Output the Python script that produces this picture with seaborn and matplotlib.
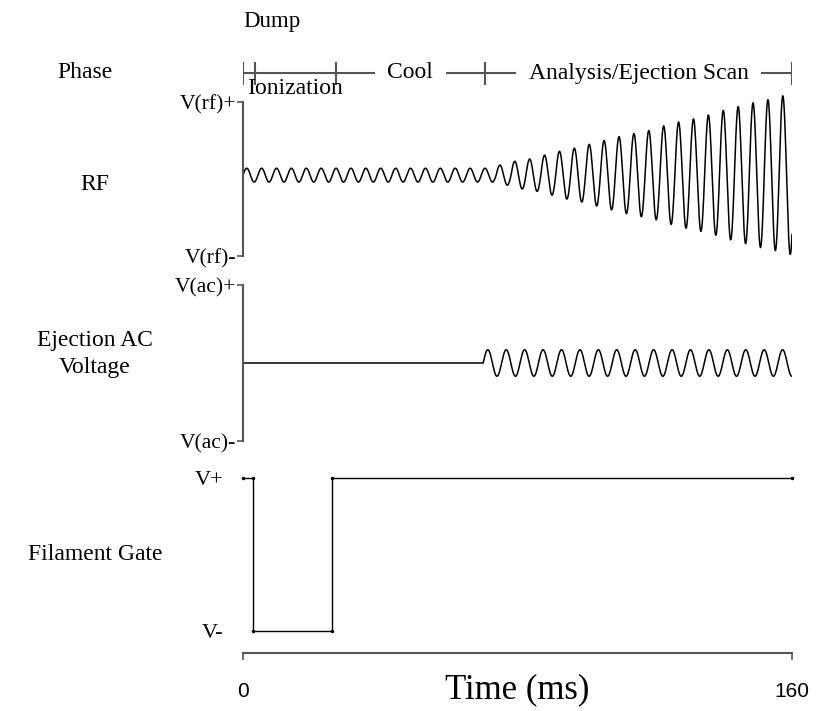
import numpy as np
import pandas as pd
import matplotlib
matplotlib.use('Agg')
import matplotlib.pyplot as plt
import seaborn as sns

# phases of the scan (ms)
phase_names = ['Dump', 'Ionization', 'Cool', 'Analysis/Ejection Scan']
phase_edges = [0, 3.5, 27, 70.5, 160]

# RF: one amplitude per cycle (V(rf)+ = 1)
rf_period = 4.34
rf_offset = 0.05
rf_amps = [0.09, 0.09, 0.09, 0.09, 0.09, 0.09, 0.09, 0.09, 0.09, 0.09,
           0.09, 0.09, 0.09, 0.09, 0.09, 0.09, 0.09, 0.13, 0.18, 0.21,
           0.26, 0.31, 0.35, 0.40, 0.45, 0.50, 0.54, 0.58, 0.64, 0.69,
           0.73, 0.78, 0.84, 0.89, 0.94, 0.98, 1.03]

# ejection AC voltage
ac_start = 70
ac_period = 5.37
ac_amp = 0.17

# filament gate corners
gate_t = [0, 3, 3, 26, 26, 160]
gate_v = [1, 1, -1, -1, 1, 1]

time_ticks = [0, 160]
t_end = 160

sns.set_theme(style='white')
plt.rcParams['font.family'] = ['Liberation Serif', 'DejaVu Serif']
plt.rcParams['text.color'] = 'black'
plt.rcParams['xtick.labelcolor'] = 'black'
plt.rcParams['ytick.labelcolor'] = 'black'
plt.rcParams['axes.labelcolor'] = 'black'
LINE = '#555555'
FS = 17

W, H = 818, 711
fig = plt.figure(figsize=(W / 100, H / 100), dpi=100)


def box(top, bottom, left=243, right=792):
    return [left / W, 1 - bottom / H, (right - left) / W, (bottom - top) / H]


def clean(ax):
    for s in ax.spines.values():
        s.set_visible(False)
    ax.set_xlim(0, t_end)
    ax.set_xticks([])
    ax.set_yticks([])
    ax.set_xlabel('')
    ax.set_ylabel('')
    ax.patch.set_alpha(0)


t = np.linspace(0, t_end, 6000)

# phase row
ax0 = fig.add_axes(box(53, 93))
clean(ax0)
ax0.set_ylim(-1, 1)
ax0.hlines(0, 0, t_end, color=LINE, lw=1.5)
ax0.vlines(phase_edges, -0.6, 0.55, color=LINE, lw=1.5)
mids = [(a + b) / 2 for a, b in zip(phase_edges[:-1], phase_edges[1:])]
ax0.text(phase_edges[0], 2.55, phase_names[0], ha='left', va='center', fontsize=FS - 0.5)
ax0.text(mids[1], -0.75, phase_names[1], ha='center', va='center', fontsize=FS)
for m, name in zip(mids[2:], phase_names[2:]):
    ax0.text(m, 0, name, ha='center', va='center', fontsize=FS,
             bbox=dict(fc='white', ec='none', pad=9))

# RF
ax1 = fig.add_axes(box(88, 262))
cyc = t / rf_period
idx = np.minimum(cyc.astype(int), len(rf_amps) - 1)
rf = rf_offset + np.array(rf_amps)[idx] * np.sin(2 * np.pi * cyc)
sns.lineplot(data=pd.DataFrame({'t': t, 'v': rf}), x='t', y='v', ax=ax1,
             color='black', lw=1.1, estimator=None, sort=False)
clean(ax1)
ax1.set_ylim(-(262 - 179) / 77, (179 - 88) / 77)
ax1.set_yticks([-1, 1], ['V(rf)-', 'V(rf)+'])

# Ejection AC
ax2 = fig.add_axes(box(275, 450))
ac = np.where(t < ac_start, 0, ac_amp * np.sin(2 * np.pi * (t - ac_start) / ac_period))
sns.lineplot(data=pd.DataFrame({'t': t, 'v': ac}), x='t', y='v', ax=ax2,
             color='black', lw=1.1, estimator=None, sort=False)
clean(ax2)
ax2.set_ylim(-(450 - 363) / 78, (363 - 275) / 78)
ax2.set_yticks([-1, 1], ['V(ac)-', 'V(ac)+'])

for ax in (ax1, ax2):
    ax.spines['left'].set_visible(True)
    ax.spines['left'].set_bounds(-1, 1)
    ax.spines['left'].set_color(LINE)
    ax.spines['left'].set_linewidth(1.5)
    ax.tick_params(axis='y', left=True, length=4, width=1.2, color=LINE,
                   direction='out', pad=1, labelsize=15.5)

# Filament gate
ax3 = fig.add_axes(box(465, 653))
sns.lineplot(data=pd.DataFrame({'t': gate_t, 'v': gate_v}), x='t', y='v', ax=ax3,
             color='black', lw=1, estimator=None, sort=False,
             marker='o', markersize=2.5, markeredgewidth=0, clip_on=False)
clean(ax3)
ax3.set_ylim(-(653 - 554.5) / 76.5, (554.5 - 465) / 76.5)
ax3.set_yticks([-1, 1], ['V-', 'V+'])
ax3.tick_params(axis='y', left=False, length=0, pad=14, labelsize=16)
ax3.spines['bottom'].set_visible(True)
ax3.spines['bottom'].set_bounds(0, t_end)
ax3.spines['bottom'].set_color(LINE)
ax3.spines['bottom'].set_linewidth(1.5)
ax3.set_xticks(time_ticks, [str(v) for v in time_ticks])
ax3.tick_params(axis='x', bottom=True, length=5, width=1.2, color=LINE,
                direction='out', pad=16, labelsize=15)
for lab in ax3.get_xticklabels():
    lab.set_family('Liberation Sans')
ax3.set_xlabel('Time (ms)', fontsize=25)
ax3.xaxis.set_label_coords(0.5, -(690 - 653) / (653 - 465))
ax3.xaxis.label.set_va('center')

# row titles
fig.text(85 / W, 1 - 73 / H, 'Phase', ha='center', va='center', fontsize=FS)
fig.text(95 / W, 1 - 185 / H, 'RF', ha='center', va='center', fontsize=FS)
fig.text(95 / W, 1 - 354 / H, 'Ejection AC\nVoltage', ha='center', va='center',
         fontsize=FS, linespacing=1.4)
fig.text(95 / W, 1 - 555 / H, 'Filament Gate', ha='center', va='center', fontsize=FS)

fig.savefig('out.png', dpi=100)
